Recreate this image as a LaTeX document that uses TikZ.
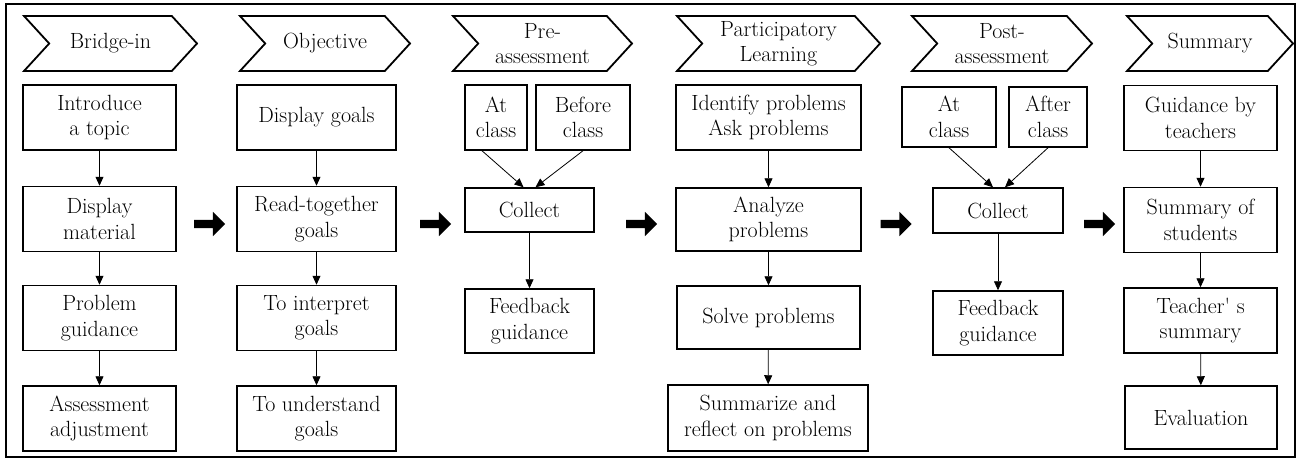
\documentclass[tikz,border=0pt]{standalone}
\usetikzlibrary{positioning, arrows.meta, shapes.symbols, shapes.arrows}

\begin{document}
\begin{tikzpicture}[x=1pt, y=-1pt, font=\fontsize{22}{25.5}\selectfont,
  bx/.style={draw, line width=1.5pt, align=center, inner sep=1pt,
             minimum width=153pt, minimum height=65pt},
  stage/.style={signal, signal from=west, signal to=east, signal pointer angle=95,
                draw, line width=1.8pt, align=center, inner sep=1pt, minimum height=55pt},
  s/.style={-{Triangle[length=9pt, width=8pt]}, line width=0.8pt},
  big/.style={single arrow, fill=black, draw=none, inner sep=4pt,
              single arrow head extend=8pt, minimum height=31pt}]
\useasboundingbox (0,0) rectangle (1299,459);
\draw[line width=1.2pt] (6,4) rectangle (1295,457);
% Stage headers.
\node[stage, minimum width=173pt] (bridge) at (110.5,43.5) {Bridge-in};
\node[stage, minimum width=170pt] (objective) at (325,43.5) {Objective};
\node[stage, minimum width=179pt] (preassess) at (542.5,43.5) {Pre-\\assessment};
\node[stage, minimum width=203pt] (particip) at (778.5,43.5) {Participatory\\Learning};
\node[stage, minimum width=180pt] (postassess) at (1002,43.5) {Post-\\assessment};
\node[stage, minimum width=166pt] (summary) at (1210,43.5) {Summary};
% Bridge-in column.
\node[bx] (intro) at (99.5,117.5) {Introduce\\a topic};
\node[bx] (material) at (99.5,219) {Display\\material};
\node[bx] (probguide) at (99.5,318) {Problem\\guidance};
\node[bx] (adjust) at (99.5,418.5) {Assessment\\adjustment};
% Objective column.
\node[bx, minimum width=159pt] (dispgoals) at (316.5,117.5) {Display goals};
\node[bx, minimum width=159pt] (readgoals) at (316.5,219) {Read-together\\goals};
\node[bx, minimum width=159pt] (interpret) at (316.5,318) {To interpret\\goals};
\node[bx, minimum width=159pt] (understand) at (316.5,418.5) {To understand\\goals};
% Pre-assessment column.
\node[bx, minimum width=62pt] (atpre) at (496,117.5) {At\\class};
\node[bx, minimum width=94pt] (beforepre) at (583,117.5) {Before\\class};
\node[bx, minimum width=129pt, minimum height=44pt] (collectpre) at (529.5,210) {Collect};
\node[bx, minimum width=129pt, minimum height=64pt] (feedpre) at (529.5,321) {Feedback\\guidance};
% Participatory learning column.
\node[bx, minimum width=185pt] (identify) at (768.5,117.5) {Identify problems\\Ask problems};
\node[bx, minimum width=185pt, minimum height=63pt] (analyze) at (768.5,219.5) {Analyze\\problems};
\node[bx, minimum width=183pt, minimum height=63pt] (solve) at (768.5,317.5) {Solve problems};
\node[bx, minimum width=200pt, minimum height=66pt] (reflect) at (768,418) {Summarize and\\reflect on problems};
% Post-assessment column.
\node[bx, minimum width=94pt, minimum height=60pt] (atpost) at (949,117) {At\\class};
\node[bx, minimum width=78pt, minimum height=60pt] (afterpost) at (1048,117) {After\\class};
\node[bx, minimum width=130pt, minimum height=45pt] (collectpost) at (998,210.5) {Collect};
\node[bx, minimum width=130pt, minimum height=64pt] (feedpost) at (998,323) {Feedback\\guidance};
% Summary column.
\node[bx] (guideteach) at (1200.5,118) {Guidance by\\teachers};
\node[bx] (sumstud) at (1200.5,220) {Summary of\\students};
\node[bx] (teachsum) at (1200.5,320.5) {Teacher\textquotesingle\ s\\summary};
\node[bx, minimum width=152pt, minimum height=63pt] (evaluation) at (1201,417.5) {Evaluation};
% Flow between stages.
\node[big] (go1) at (207.5,224) {};
\node[big] (go2) at (433.5,224) {};
\node[big] (go3) at (639.5,224) {};
\node[big] (go4) at (894,224) {};
\node[big] (go5) at (1097.5,224) {};
% Steps inside each stage.
\draw[s] (intro)--(material); \draw[s] (material)--(probguide); \draw[s] (probguide)--(adjust);
\draw[s] (dispgoals)--(readgoals); \draw[s] (readgoals)--(interpret); \draw[s] (interpret)--(understand);
\draw[s] ([xshift=-14pt]atpre.south)--([xshift=-6pt]collectpre.north);
\draw[s] (beforepre.south)--([xshift=6pt]collectpre.north);
\draw[s] (collectpre)--(feedpre);
\draw[s] (identify)--(analyze); \draw[s] (analyze)--(solve); \draw[s] (solve)--(reflect);
\draw[s] (atpost.south)--([xshift=-5pt]collectpost.north);
\draw[s] (afterpost.south)--([xshift=7pt]collectpost.north);
\draw[s] (collectpost)--(feedpost);
\draw[s] (guideteach)--(sumstud); \draw[s] (sumstud)--(teachsum); \draw[s] (teachsum)--(evaluation);
\end{tikzpicture}
\end{document}
